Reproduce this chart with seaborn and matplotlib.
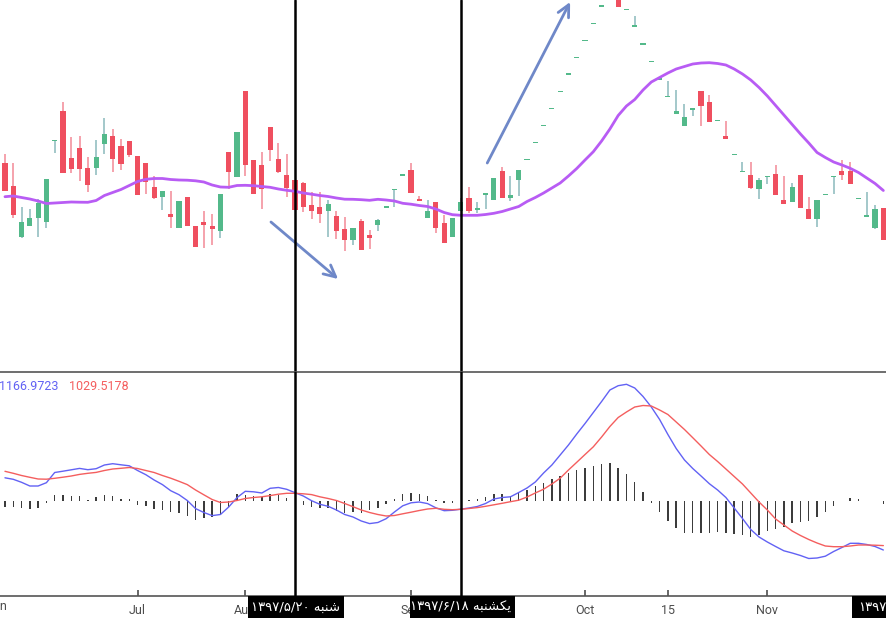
import numpy as np
import pandas as pd
import matplotlib
matplotlib.use("Agg")
import matplotlib.pyplot as plt
from matplotlib.patches import Rectangle
from matplotlib.transforms import blended_transform_factory
import seaborn as sns

# ── data: one entry per trading day shown (index 0 = left edge) ─────────────
opens = [23730, 21400, 16330, 17430, 18230, 17830, 25930, 28900, 24200, 25200,
         23200, 23230, 25630, 26400, 25400, 25900, 24400, 23700, 21300, 20330,
         18600, 17230, 20300, 17400, 17800, 17400, 16930, 24800, 22330, 30900,
         24000, 23500, 27300, 24100, 22500, 22000, 21700, 19500, 19300, 18930,
         18400, 17100, 16030, 17900, 16500, 17530, 19300, 21070, 22500, 23000,
         20100, 18200, 19800, 17700, 16330, 18930, 20200, 19030, 20600, 20030,
         22900, 20230, 22030, 24070, 25770, 27470, 29170, 30870, 32600, 34270,
         35970, 37670, 39400, 41100, 41100, 39070, 37400, 35600, 33870, 32100,
         30370, 28630, 27430, 29030, 30900, 29800, 27970, 26400, 24570, 22870,
         22500, 21130, 22270, 22600, 20000, 19830, 22500, 19100, 18130, 20570,
         22370, 22900, 22900, 20170, 18400, 17230, 19200]
highs = [24600, 23730, 19330, 19100, 20100, 22100, 25970, 29800, 26300, 26400,
         24300, 26000, 28200, 27100, 26100, 25900, 24400, 23700, 22400, 20900,
         20900, 19900, 20300, 17400, 18900, 18600, 20600, 24800, 26800, 30900,
         24000, 24800, 27300, 25700, 24600, 22000, 21800, 20770, 20770, 20000,
         18900, 18300, 17200, 18100, 17000, 18100, 19300, 21070, 22500, 23700,
         20400, 20000, 19800, 18500, 18200, 20200, 21300, 19800, 20600, 22200,
         23300, 22400, 23000, 24070, 25770, 27470, 29170, 30870, 32600, 34270,
         35970, 37670, 39400, 41100, 41100, 39070, 38400, 35600, 33870, 32100,
         31900, 31000, 29600, 29200, 30900, 30500, 27970, 27930, 24570, 23800,
         23800, 22200, 22430, 23500, 22400, 21700, 22500, 20300, 20000, 20570,
         22370, 24000, 23800, 20170, 20800, 19500, 19200]
lows = [20930, 18170, 16230, 17430, 16330, 17230, 24730, 22670, 22670, 21930,
        20830, 22530, 24630, 22830, 23030, 24330, 20530, 20600, 20130, 19030,
        17230, 17230, 17430, 15330, 15230, 15530, 16230, 21130, 22330, 22430,
        20630, 19130, 23930, 22730, 20330, 19030, 18830, 18100, 17730, 16330,
        16100, 14930, 15530, 15030, 15130, 16930, 19300, 19330, 22500, 20730,
        19900, 18200, 16730, 15730, 16330, 18930, 18670, 18670, 19130, 20030,
        20230, 19930, 20430, 24070, 25770, 27470, 29170, 30870, 32600, 34270,
        35970, 37670, 39400, 41100, 39330, 39070, 37400, 35600, 33870, 32100,
        30370, 28630, 27370, 28430, 27400, 27830, 27970, 26130, 24570, 22870,
        21130, 20130, 21630, 20530, 19630, 19830, 19230, 18130, 17330, 20570,
        20630, 22030, 21630, 20170, 18400, 17130, 16000]
closes = [20930, 18500, 17800, 18200, 19670, 22100, 25970, 22730, 23130, 23130,
          21530, 24300, 26600, 24130, 23630, 24530, 20530, 21830, 20230, 20900,
          18330, 19900, 17430, 15330, 17530, 17130, 20600, 22830, 26800, 23530,
          20630, 21130, 25030, 22830, 21230, 19030, 19330, 18930, 18630, 19600,
          16930, 16030, 17200, 15030, 16230, 18000, 19300, 21070, 22500, 20730,
          19900, 18900, 17230, 15730, 18200, 19830, 18930, 19200, 20600, 22200,
          20230, 20470, 23000, 24070, 25770, 27470, 29170, 30870, 32600, 34270,
          35970, 37670, 39400, 41100, 39330, 39070, 37400, 35600, 33870, 32100,
          30370, 28900, 28300, 29200, 29430, 27830, 27970, 26130, 24570, 22870,
          21230, 22000, 22430, 20530, 19630, 21300, 19230, 18130, 20000, 20570,
          22370, 22530, 21630, 20170, 18400, 19100, 16000]
moving_avg = [20330, 20400, 20250, 20100, 19900, 19650, 19700, 19750, 19800, 19780,
              19770, 19950, 20450, 20750, 21050, 21450, 21850, 22070, 22150, 22150,
              22050, 22000, 21980, 21920, 21800, 21500, 21300, 21270, 21450, 21470,
              21430, 21350, 21270, 21100, 20970, 20870, 20700, 20580, 20450, 20350,
              20200, 20080, 20070, 20030, 19970, 20070, 20000, 19900, 19670, 19580,
              19450, 19350, 19100, 18750, 18530, 18470, 18470, 18470, 18550, 18670,
              18850, 19100, 19350, 19850, 20250, 20700, 21200, 21700, 22400, 23150,
              24000, 24830, 25900, 27100, 28450, 29400, 30050, 31000, 31800, 32250,
              32700, 33100, 33350, 33600, 33700, 33730, 33650, 33500, 33100, 32600,
              32000, 31250, 30400, 29450, 28500, 27550, 26600, 25700, 24750, 24250,
              23800, 23500, 23170, 22750, 22200, 21650, 20950]
macd_line = [232, 217, 187, 150, 150, 183, 285, 298, 312, 326,
             313, 323, 360, 373, 362, 352, 305, 263, 210, 164,
             103, 63, 5, -76, -115, -146, -135, -60, 34, 97,
             92, 80, 127, 135, 117, 83, 50, 3, -33, -53,
             -90, -135, -160, -200, -226, -215, -177, -110, -48, -18,
             -10, -26, -68, -97, -93, -82, -70, -55, -25, 20,
             35, 42, 85, 130, 190, 280, 360, 460, 560, 670,
             775, 885, 995, 1110, 1153, 1167, 1130, 1045, 940, 815,
             665, 525, 410, 325, 250, 173, 110, 35, -70, -175,
             -285, -360, -410, -455, -498, -520, -545, -575, -570, -552,
             -505, -465, -423, -423, -435, -455, -490]
signal_line = [297, 277, 255, 237, 220, 218, 227, 238, 250, 266,
               277, 286, 305, 320, 327, 335, 325, 305, 285, 255,
               228, 197, 164, 110, 62, 15, -15, -10, 5, 25,
               35, 42, 54, 68, 77, 77, 72, 64, 42, 25,
               5, -25, -57, -90, -115, -135, -150, -145, -128, -112,
               -95, -80, -73, -83, -87, -83, -75, -66, -53, -38,
               -23, -7, 8, 40, 80, 118, 170, 228, 310, 387,
               465, 542, 640, 745, 835, 890, 940, 955, 950, 910,
               865, 790, 715, 633, 550, 465, 395, 320, 245, 170,
               80, -10, -90, -180, -240, -300, -345, -385, -420, -450,
               -457, -457, -450, -440, -440, -442, -446]
histogram = [-55, -60, -70, -80, -70, -15, 60, 60, 55, 50,
             15, 40, 65, 50, 20, 25, -40, -50, -80, -90,
             -110, -120, -150, -190, -170, -160, -130, -60, 70, 60,
             50, 45, 70, 60, 30, 5, -40, -57, -73, -73,
             -100, -117, -107, -123, -90, -73, -30, 20, 70, 83,
             70, 50, 10, -23, -17, 0, 10, 20, 40, 70,
             70, 53, 93, 110, 147, 177, 220, 250, 277, 310,
             330, 350, 370, 377, 330, 270, 193, 90, -17, -107,
             -197, -273, -317, -323, -317, -317, -313, -323, -330, -340,
             -357, -340, -297, -283, -263, -223, -210, -197, -157, -107,
             -47, 0, 30, 20, 0, 0, -30]

month_ticks = [16, 29, 49, 70, 80, 92]
month_labels = ["Jul", "Aug", "Sep", "Oct", "15", "Nov"]
marked_days = [35, 55]
marked_labels = ["۱۳۹۷/۵/۲۰ \ufeea\ufe92\ufee8\ufeb7",                # شنبه (shaped, visual order)
                 "۱۳۹۷/۶/۱۸ \ufeea\ufe92\ufee8\ufeb8\ufb91\ufbfe"]    # یکشنبه
last_label = "۱۳۹۷/۹/۱"
legend_values = ["1166.9723", "1029.5178"]

df = pd.DataFrame({"day": np.arange(len(opens)), "open": opens, "high": highs,
                   "low": lows, "close": closes, "ma": moving_avg,
                   "macd": macd_line, "signal": signal_line, "hist": histogram})

UP, DOWN = "#53b98a", "#ef4f5f"
UP_WICK, DOWN_WICK = "#9cc4c6", "#f59ba6"

sns.set_theme(style="white")
plt.rcParams["font.family"] = ["Roboto", "DejaVu Sans"]

fig = plt.figure(figsize=(8.86, 6.18), dpi=100)
ax = fig.add_axes([0, 1 - 372 / 618, 1, 372 / 618])
axm = fig.add_axes([0, 22 / 618, 1, 224 / 618], sharex=ax)

# ── price panel ──────────────────────────────────────────────────────────────
up = df["close"] >= df["open"]
body_h = (df["close"] - df["open"]).abs()
min_h = 150
body_lo = df[["open", "close"]].min(axis=1) - np.clip(min_h - body_h, 0, None) / 2
body_h = body_h.clip(lower=min_h)

ax.vlines(df["day"], df["low"], df["high"],
          colors=np.where(up, UP_WICK, DOWN_WICK), lw=1.3, zorder=2)
ax.bar(df["day"], body_h, bottom=body_lo, width=0.62,
       color=np.where(up, UP, DOWN), linewidth=0, zorder=3)
sns.lineplot(data=df, x="day", y="ma", ax=ax, color="#b85cf4", lw=2.0, zorder=4)

arrow = dict(arrowstyle="->,head_length=0.7,head_width=0.35",
             color="#6f88c8", lw=2, shrinkA=0, shrinkB=0)
ax.annotate("", xy=(40.2, 12100), xytext=(32.1, 17800), arrowprops=arrow)
ax.annotate("", xy=(68.2, 39800), xytext=(58.2, 23700), arrowprops=arrow)

ax.set_xlim(-0.6, 106.32)
ax.set_ylim(2800, 40000)
ax.set_xlabel("")
ax.set_ylabel("")
ax.set_yticks([])
ax.tick_params(labelbottom=False, bottom=False)
for s in ax.spines.values():
    s.set_visible(False)

# ── MACD panel ───────────────────────────────────────────────────────────────
axm.bar(df["day"], df["hist"], width=0.17, color="#3c3c3c", linewidth=0, zorder=2)
sns.lineplot(data=df, x="day", y="macd", ax=axm, color="#6262f4", lw=1.0, zorder=3)
sns.lineplot(data=df, x="day", y="signal", ax=axm, color="#f45e5e", lw=1.0, zorder=3)
axm.set_ylim(-950, 1290)
axm.set_yticks([])
axm.set_xlabel("")
axm.set_ylabel("")
for side in ("left", "right"):
    axm.spines[side].set_visible(False)
for side in ("top", "bottom"):
    axm.spines[side].set_color("#555555")
    axm.spines[side].set_linewidth(1.2)

axm.set_xticks(month_ticks)
axm.set_xticklabels(month_labels)
axm.tick_params(axis="x", direction="in", length=4, color="#555555",
                labelcolor="#4d4d4d", labelsize=9, pad=6, bottom=True)

fig.text(-1 / 886, (618 - 386) / 618, legend_values[0], color="#6262f4",
         fontsize=9, va="center", ha="left")
fig.text(69 / 886, (618 - 386) / 618, legend_values[1], color="#f45e5e",
         fontsize=9, va="center", ha="left")

# ── markers ──────────────────────────────────────────────────────────────────
for d in marked_days:
    ax.axvline(d, color="black", lw=1.8, zorder=6)
    axm.axvline(d, color="black", lw=1.8, zorder=6)

tr = blended_transform_factory(axm.transData, fig.transFigure)
fig.text(-1, (618 - 607) / 618, "Jun", transform=tr, color="#4d4d4d",
         fontsize=9, ha="center", va="center")

box_spans = [(29.33, 40.91), (48.88, 61.55), (102.2, 110)]
for x0, x1 in box_spans:
    axm.add_patch(Rectangle((x0, 0), x1 - x0, 22 / 618, transform=tr,
                            facecolor="black", edgecolor="none",
                            clip_on=False, zorder=10))
for d, lab in zip(marked_days, marked_labels):
    axm.text(d, (618 - 607) / 618, lab, transform=tr, color="white",
             fontsize=9.5, ha="center", va="center", family=["DejaVu Sans"],
             zorder=11, clip_on=False)
axm.text(103.0, (618 - 607) / 618, last_label, transform=tr, color="white",
         fontsize=9.5, ha="left", va="center", family=["DejaVu Sans"],
         zorder=11, clip_on=False)

fig.savefig("out.png", dpi=100)
